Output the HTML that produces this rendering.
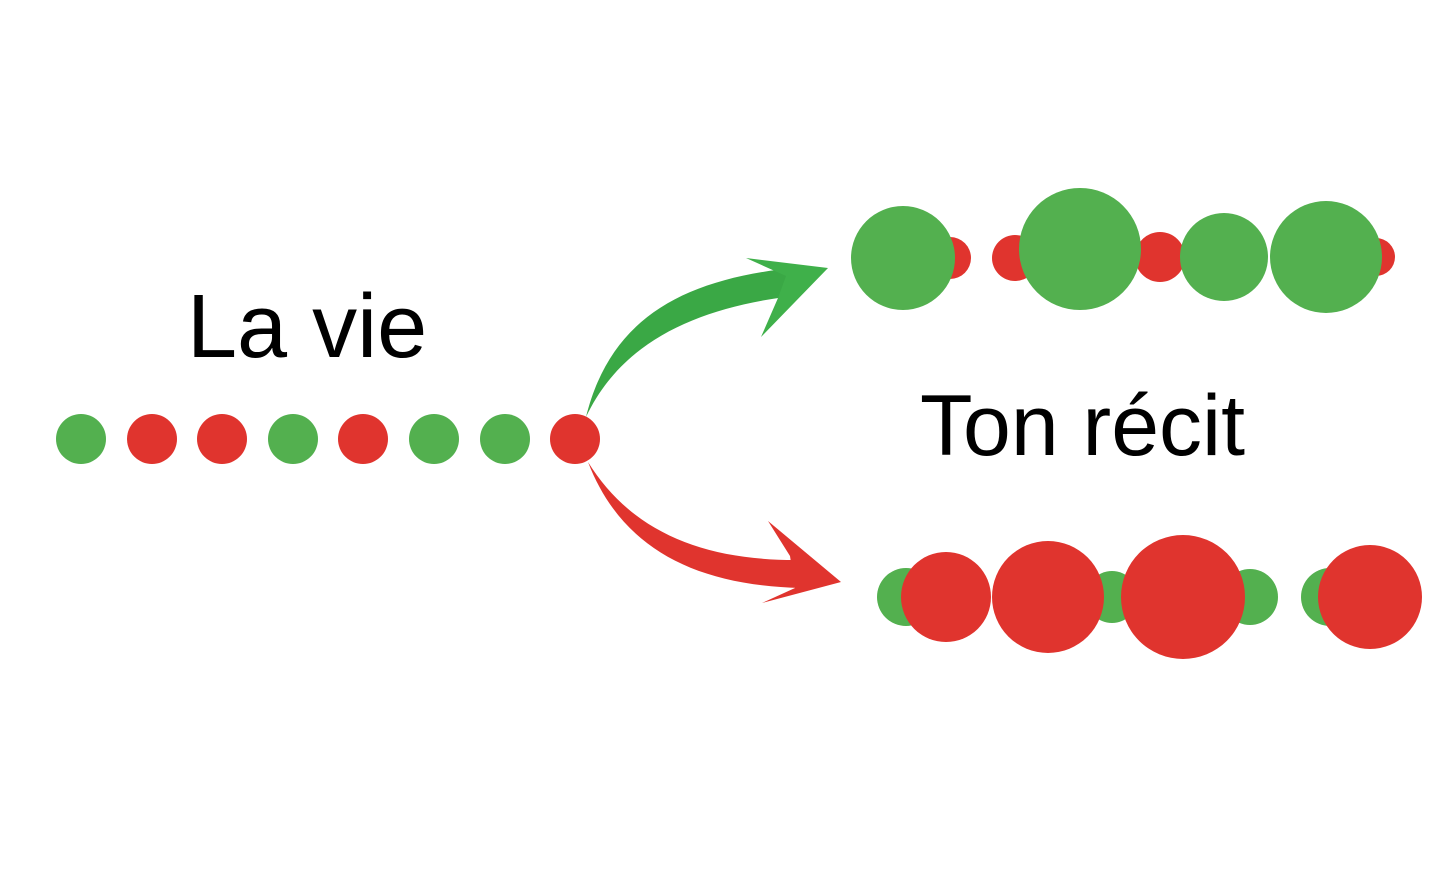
<!DOCTYPE html>
<html><head><meta charset="utf-8"><style>
html,body{margin:0;padding:0;background:#fff;}
svg{display:block}
</style></head><body>
<svg width="1452" height="874" viewBox="0 0 1452 874" xmlns="http://www.w3.org/2000/svg">
<rect width="1452" height="874" fill="#fff"/>
<g fill="#53b04f">
<circle cx="81" cy="439" r="25"/><circle cx="293" cy="439" r="25"/><circle cx="434" cy="439" r="25"/><circle cx="505" cy="439" r="25"/>
</g>
<g fill="#e0342e">
<circle cx="152" cy="439" r="25"/><circle cx="222" cy="439" r="25"/><circle cx="363" cy="439" r="25"/><circle cx="575" cy="439" r="25"/>
</g>
<circle cx="950" cy="258" r="21" fill="#e0342e"/>
<circle cx="1015" cy="258" r="23" fill="#e0342e"/>
<circle cx="1160" cy="257" r="25" fill="#e0342e"/>
<circle cx="1376" cy="257" r="19" fill="#e0342e"/>
<g fill="#53b04f">
<circle cx="903" cy="258" r="52"/>
<circle cx="1080" cy="249" r="61"/>
<circle cx="1224" cy="257" r="44"/>
<circle cx="1326" cy="257" r="56"/>
</g>
<g fill="#53b04f">
<circle cx="906" cy="597" r="29"/><circle cx="1112" cy="597" r="26"/><circle cx="1250" cy="597" r="28"/><circle cx="1330" cy="597" r="29"/>
</g>
<g fill="#e0342e">
<circle cx="946" cy="597" r="45"/><circle cx="1048" cy="597" r="56"/><circle cx="1183" cy="597" r="62"/><circle cx="1370" cy="597" r="52"/>
</g>
<!-- green arrow -->
<path d="M586,417 C620,345 690,310 785,297 L792,268 C680,280 610,320 586,417 Z" fill="#3aa845"/>
<path d="M746,258 L828,268 L761,337 L778,298 L786,276 Z" fill="#3fb04a"/>
<!-- red arrow -->
<path d="M588,462 C630,530 700,560 795,560 L800,588 C690,585 620,545 588,462 Z" fill="#e0342e"/>
<path d="M768,521 L841,582 L762,603 L795,588 L790,556 Z" fill="#e0342e"/>
<text x="187" y="357" font-family="Liberation Sans, sans-serif" font-size="90" fill="#000">La vie</text>
<text x="920" y="455" font-family="Liberation Sans, sans-serif" font-size="86" fill="#000">Ton récit</text>
</svg>
</body></html>
